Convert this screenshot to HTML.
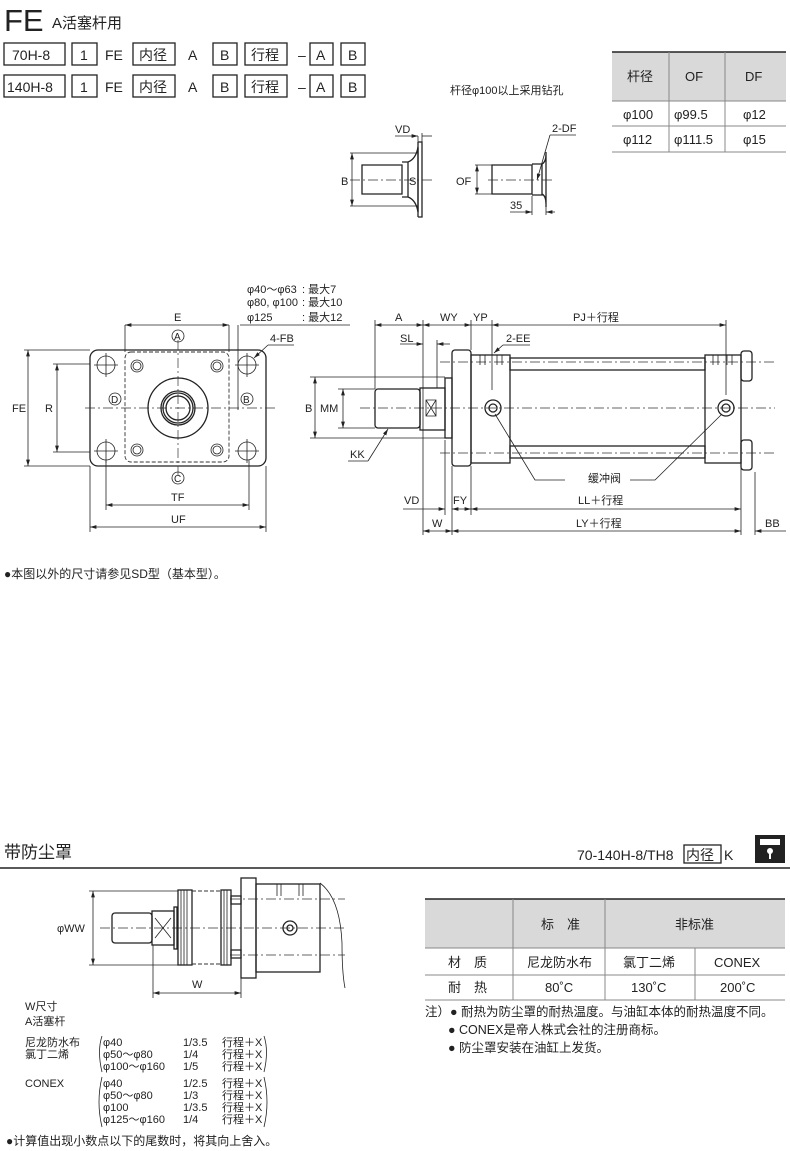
<!DOCTYPE html>
<html><head><meta charset="utf-8"><style>
body{margin:0;background:#fff}
svg{display:block}
text{font-family:"Liberation Sans","Noto Sans CJK SC",sans-serif;fill:#222}
.l{stroke:#222;fill:none;stroke-width:1.3}
.t{stroke:#222;fill:none;stroke-width:0.8}
.c{stroke:#333;fill:none;stroke-width:0.7;stroke-dasharray:10 3 2 3}
.d{stroke:#333;fill:none;stroke-width:0.9;stroke-dasharray:4 2}
.b{stroke:#222;fill:#fff;stroke-width:1}
</style></head><body>
<svg width="790" height="1151" viewBox="0 0 790 1151">
<defs>
<marker id="a" viewBox="0 0 10 6" refX="10" refY="3" markerWidth="8" markerHeight="5" orient="auto-start-reverse"><path d="M0,0L10,3L0,6" fill="#222"/></marker>
</defs>
<!-- header -->
<text x="4" y="31" font-size="31">FE</text>
<text x="52" y="28" font-size="15">A活塞杆用</text>
<g font-size="14">
<rect class="l" x="4" y="43" width="61" height="22"/><text x="12" y="60">70H-8</text>
<rect class="l" x="72" y="43" width="25" height="22"/><text x="80" y="60">1</text>
<text x="105" y="60">FE</text>
<rect class="l" x="133" y="43" width="42" height="22"/><text x="139" y="60">内径</text>
<text x="188" y="60">A</text>
<rect class="l" x="213" y="43" width="24" height="22"/><text x="220" y="60">B</text>
<rect class="l" x="245" y="43" width="42" height="22"/><text x="251" y="60">行程</text>
<text x="298" y="60">–</text>
<rect class="l" x="310" y="43" width="23" height="22"/><text x="316" y="60">A</text>
<rect class="l" x="341" y="43" width="24" height="22"/><text x="348" y="60">B</text>
<rect class="l" x="4" y="75" width="61" height="22"/><text x="7" y="92">140H-8</text>
<rect class="l" x="72" y="75" width="25" height="22"/><text x="80" y="92">1</text>
<text x="105" y="92">FE</text>
<rect class="l" x="133" y="75" width="42" height="22"/><text x="139" y="92">内径</text>
<text x="188" y="92">A</text>
<rect class="l" x="213" y="75" width="24" height="22"/><text x="220" y="92">B</text>
<rect class="l" x="245" y="75" width="42" height="22"/><text x="251" y="92">行程</text>
<text x="298" y="92">–</text>
<rect class="l" x="310" y="75" width="23" height="22"/><text x="316" y="92">A</text>
<rect class="l" x="341" y="75" width="24" height="22"/><text x="348" y="92">B</text>
</g>
<text x="450" y="94" font-size="11">杆径φ100以上采用钻孔</text>
<!-- top table -->
<rect x="612" y="52" width="174" height="49" fill="#d9d9d9"/>
<line x1="612" y1="52" x2="786" y2="52" stroke="#222" stroke-width="1.5"/>
<line x1="612" y1="101" x2="786" y2="101" stroke="#888"/>
<line x1="612" y1="126" x2="786" y2="126" stroke="#888"/>
<line x1="612" y1="152" x2="786" y2="152" stroke="#888"/>
<line x1="669" y1="52" x2="669" y2="152" stroke="#888"/>
<line x1="725" y1="52" x2="725" y2="152" stroke="#888"/>
<g font-size="13">
<text x="627" y="81">杆径</text><text x="685" y="81">OF</text><text x="745" y="81">DF</text>
<text x="623" y="119">φ100</text><text x="674" y="119">φ99.5</text><text x="743" y="119">φ12</text>
<text x="623" y="144">φ112</text><text x="674" y="144">φ111.5</text><text x="743" y="144">φ15</text>
</g>
<!-- small rod end left -->
<g>
<path class="l" d="M362,165h40v29h-40z"/>
<path class="l" d="M402,162h6v35h-6M408,162q8,-3 10,-15v65q-2,-12 -10,-15"/>
<path class="l" d="M418,142v75M418,142h4v75h-4"/>
<line class="c" x1="350" y1="180" x2="432" y2="180"/>
<line class="t" x1="350" y1="153" x2="418" y2="153"/><line class="t" x1="350" y1="206" x2="418" y2="206"/>
<line class="t" x1="352" y1="153" x2="352" y2="206" marker-start="url(#a)" marker-end="url(#a)"/>
<text x="341" y="185" font-size="11">B</text><text x="409" y="185" font-size="11">S</text>
<text x="395" y="133" font-size="11">VD</text>
<line class="t" x1="395" y1="136" x2="418" y2="136" marker-end="url(#a)"/><line class="t" x1="422" y1="136" x2="432" y2="136"/>
<line class="t" x1="418" y1="136" x2="418" y2="142"/><line class="t" x1="422" y1="133" x2="422" y2="142"/>
</g>
<!-- small rod end right -->
<g>
<path class="l" d="M492,165h40v29h-40z"/>
<path class="l" d="M532,164h10v31h-10M542,164q4,-2 4,-10v50q0,-8 -4,-10M546,152v55"/>
<line class="c" x1="488" y1="180" x2="555" y2="180"/>
<line class="t" x1="475" y1="165" x2="492" y2="165"/><line class="t" x1="475" y1="194" x2="492" y2="194"/>
<line class="t" x1="477" y1="165" x2="477" y2="194" marker-start="url(#a)" marker-end="url(#a)"/>
<text x="456" y="185" font-size="11">OF</text>
<text x="552" y="132" font-size="11">2-DF</text>
<line class="t" x1="550" y1="135" x2="576" y2="135"/><line class="t" x1="550" y1="135" x2="537" y2="180" marker-end="url(#a)"/>
<line class="t" x1="532" y1="196" x2="532" y2="215"/><line class="t" x1="546" y1="207" x2="546" y2="215"/>
<line class="t" x1="510" y1="212" x2="532" y2="212" marker-end="url(#a)"/><line class="t" x1="546" y1="212" x2="555" y2="212" marker-start="url(#a)"/>
<text x="510" y="209" font-size="11">35</text>
</g>
<!-- flange front view -->
<g font-size="11">
<text x="247" y="293">φ40～φ63</text><text x="302" y="293">: 最大7</text>
<text x="247" y="306">φ80, φ100</text><text x="302" y="306">: 最大10</text>
<text x="247" y="321">φ125</text><text x="302" y="321">: 最大12</text>
<line class="t" x1="240" y1="325" x2="350" y2="325"/>
<rect class="l" x="90" y="350" width="176" height="116" rx="8"/>
<rect class="d" x="125" y="352" width="104" height="110" rx="6"/>
<line class="c" x1="85" y1="408" x2="278" y2="408"/>
<line class="c" x1="178" y1="340" x2="178" y2="475"/>
<circle class="l" cx="178" cy="408" r="30"/>
<circle class="l" cx="178" cy="408" r="17"/><circle class="l" cx="178" cy="408" r="15"/><circle class="l" cx="178" cy="408" r="12"/>
<g class="t">
<circle cx="106" cy="365" r="9"/><circle cx="247" cy="365" r="9"/><circle cx="106" cy="451" r="9"/><circle cx="247" cy="451" r="9"/>
<path d="M94,365h24M106,353v24M235,365h24M247,353v24M94,451h24M106,439v24M235,451h24M247,439v24"/>
<circle cx="137" cy="366" r="6"/><circle cx="137" cy="366" r="4"/><circle cx="217" cy="366" r="6"/><circle cx="217" cy="366" r="4"/>
<circle cx="137" cy="450" r="6"/><circle cx="137" cy="450" r="4"/><circle cx="217" cy="450" r="6"/><circle cx="217" cy="450" r="4"/>
</g>
<circle class="t" cx="178" cy="336" r="6"/><text x="174" y="340" font-size="10">A</text>
<circle class="t" cx="178" cy="478" r="6"/><text x="174" y="482" font-size="10">C</text>
<circle class="t" cx="115" cy="399" r="6"/><text x="111" y="403" font-size="10">D</text>
<circle class="t" cx="247" cy="399" r="6"/><text x="243" y="403" font-size="10">B</text>
<text x="174" y="321">E</text>
<line class="t" x1="125" y1="325" x2="125" y2="352"/><line class="t" x1="229" y1="325" x2="229" y2="352"/><line class="t" x1="238" y1="325" x2="238" y2="410"/>
<line class="t" x1="125" y1="325" x2="229" y2="325" marker-start="url(#a)" marker-end="url(#a)"/>
<text x="270" y="342">4-FB</text>
<line class="t" x1="268" y1="345" x2="294" y2="345"/><line class="t" x1="268" y1="345" x2="254" y2="358" marker-end="url(#a)"/>
<line class="t" x1="24" y1="350" x2="90" y2="350"/><line class="t" x1="24" y1="466" x2="90" y2="466"/>
<line class="t" x1="28" y1="350" x2="28" y2="466" marker-start="url(#a)" marker-end="url(#a)"/>
<text x="12" y="412">FE</text>
<line class="t" x1="53" y1="364" x2="90" y2="364"/><line class="t" x1="53" y1="452" x2="90" y2="452"/>
<line class="t" x1="57" y1="364" x2="57" y2="452" marker-start="url(#a)" marker-end="url(#a)"/>
<text x="45" y="412">R</text>
<line class="t" x1="106" y1="460" x2="106" y2="510"/><line class="t" x1="249" y1="460" x2="249" y2="510"/>
<line class="t" x1="106" y1="505" x2="249" y2="505" marker-start="url(#a)" marker-end="url(#a)"/>
<text x="171" y="501">TF</text>
<line class="t" x1="90" y1="466" x2="90" y2="532"/><line class="t" x1="266" y1="466" x2="266" y2="532"/>
<line class="t" x1="90" y1="527" x2="266" y2="527" marker-start="url(#a)" marker-end="url(#a)"/>
<text x="171" y="523">UF</text>
</g>
<!-- side view -->
<g font-size="11">
<line class="c" x1="360" y1="408" x2="775" y2="408"/>
<line class="c" x1="440" y1="362" x2="775" y2="362"/><line class="c" x1="440" y1="453" x2="775" y2="453"/>
<rect class="l" x="375" y="389" width="45" height="39" rx="3"/>
<rect class="l" x="420" y="388" width="25" height="42"/>
<path class="t" d="M426,400l10,16M436,400l-10,16M426,400h10v16h-10z"/>
<rect class="l" x="445" y="378" width="7" height="60"/>
<rect class="l" x="452" y="350" width="19" height="116" rx="3"/>
<rect class="l" x="471" y="355" width="39" height="108"/>
<rect class="l" x="510" y="358" width="195" height="12"/>
<rect class="l" x="510" y="446" width="195" height="12"/>
<rect class="l" x="705" y="355" width="36" height="108"/>
<rect class="l" x="741" y="351" width="11" height="30" rx="3"/><rect class="l" x="741" y="440" width="11" height="30" rx="3"/>
<circle class="l" cx="493" cy="408" r="8"/><circle class="l" cx="493" cy="408" r="4"/>
<circle class="l" cx="726" cy="408" r="8"/><circle class="l" cx="726" cy="408" r="4"/>
<path class="t" d="M480,355v10M485,355v10M497,355v10M502,355v10M713,355v10M718,355v10M727,355v10M732,355v10"/>
<line class="t" x1="310" y1="377" x2="445" y2="377"/><line class="t" x1="310" y1="438" x2="445" y2="438"/>
<line class="t" x1="315" y1="377" x2="315" y2="438" marker-start="url(#a)" marker-end="url(#a)"/>
<text x="305" y="412">B</text>
<line class="t" x1="338" y1="389" x2="375" y2="389"/><line class="t" x1="338" y1="428" x2="375" y2="428"/>
<line class="t" x1="343" y1="389" x2="343" y2="428" marker-start="url(#a)" marker-end="url(#a)"/>
<text x="320" y="412">MM</text>
<text x="350" y="458">KK</text>
<line class="t" x1="348" y1="461" x2="368" y2="461"/><line class="t" x1="368" y1="461" x2="388" y2="429" marker-end="url(#a)"/>
<line class="t" x1="375" y1="320" x2="375" y2="389"/><line class="t" x1="423" y1="320" x2="423" y2="535"/><line class="t" x1="471" y1="320" x2="471" y2="350"/>
<line class="t" x1="492" y1="320" x2="492" y2="390"/><line class="t" x1="726" y1="320" x2="726" y2="395"/>
<line class="t" x1="375" y1="325" x2="423" y2="325" marker-start="url(#a)" marker-end="url(#a)"/><text x="395" y="321">A</text>
<line class="t" x1="423" y1="325" x2="471" y2="325" marker-start="url(#a)" marker-end="url(#a)"/><text x="440" y="321">WY</text>
<line class="t" x1="471" y1="325" x2="492" y2="325"/><text x="473" y="321">YP</text>
<line class="t" x1="492" y1="325" x2="726" y2="325" marker-start="url(#a)" marker-end="url(#a)"/><text x="573" y="321">PJ＋行程</text>
<text x="400" y="342">SL</text>
<line class="t" x1="400" y1="344" x2="423" y2="344" marker-end="url(#a)"/><line class="t" x1="437" y1="344" x2="450" y2="344" marker-start="url(#a)"/>
<line class="t" x1="437" y1="340" x2="437" y2="388"/>
<text x="506" y="342">2-EE</text>
<line class="t" x1="503" y1="345" x2="530" y2="345"/><line class="t" x1="503" y1="345" x2="494" y2="353" marker-end="url(#a)"/>
<text x="588" y="482">缓冲阀</text>
<path class="t" d="M565,480h-30L495,414M630,480h25L722,414"/>
<line class="t" x1="445" y1="440" x2="445" y2="515"/><line class="t" x1="452" y1="466" x2="452" y2="535"/><line class="t" x1="471" y1="466" x2="471" y2="515"/>
<line class="t" x1="741" y1="466" x2="741" y2="535"/><line class="t" x1="755" y1="472" x2="755" y2="535"/>
<text x="404" y="504">VD</text>
<line class="t" x1="403" y1="509" x2="445" y2="509" marker-end="url(#a)"/><line class="t" x1="452" y1="509" x2="471" y2="509" marker-start="url(#a)" marker-end="url(#a)"/>
<text x="453" y="504">FY</text>
<line class="t" x1="471" y1="509" x2="741" y2="509" marker-start="url(#a)" marker-end="url(#a)"/><text x="578" y="504">LL＋行程</text>
<line class="t" x1="423" y1="531" x2="452" y2="531" marker-start="url(#a)" marker-end="url(#a)"/><text x="432" y="527">W</text>
<line class="t" x1="452" y1="531" x2="741" y2="531" marker-start="url(#a)" marker-end="url(#a)"/><text x="576" y="527">LY＋行程</text>
<line class="t" x1="755" y1="531" x2="786" y2="531" marker-start="url(#a)"/><text x="765" y="527">BB</text>
</g>
<text x="4" y="578" font-size="12">●本图以外的尺寸请参见SD型（基本型）。</text>
<!-- bottom section -->
<text x="4" y="858" font-size="17">带防尘罩</text>
<line x1="0" y1="868" x2="790" y2="868" stroke="#222" stroke-width="1.5"/>
<text x="577" y="860" font-size="14">70-140H-8/TH8</text>
<rect class="l" x="684" y="845" width="37" height="18"/><text x="686" y="860" font-size="14">内径</text>
<text x="724" y="860" font-size="14">K</text>
<rect x="755" y="835" width="30" height="28" fill="#222"/>
<rect x="760" y="839" width="20" height="6" fill="#fff"/><circle cx="770" cy="851" r="3" fill="#fff"/><rect x="769" y="851" width="2" height="8" fill="#fff"/>
<g font-size="11">
<line class="c" x1="100" y1="928" x2="345" y2="928"/>
<line class="c" x1="230" y1="899" x2="345" y2="899"/><line class="c" x1="230" y1="955" x2="345" y2="955"/>
<rect class="l" x="112" y="913" width="40" height="30" rx="3"/>
<rect class="l" x="152" y="911" width="22" height="34"/>
<path class="t" d="M155,918l16,20M171,918l-16,20"/>
<rect class="l" x="174" y="907" width="3" height="42"/>
<rect class="l" x="178" y="890" width="14" height="75"/>
<path class="t" d="M181,890v75M184,890v75M187,890v75"/>
<rect class="l" x="221" y="890" width="10" height="75"/>
<path class="t" d="M224,890v75M227,890v75"/>
<path class="d" d="M192,891h29M192,964h29"/>
<rect class="l" x="231" y="896" width="10" height="8"/><rect class="l" x="231" y="950" width="10" height="8"/>
<rect class="l" x="241" y="878" width="15" height="100"/>
<rect class="l" x="256" y="884" width="64" height="88"/>
<circle class="l" cx="290" cy="928" r="7"/><circle class="l" cx="290" cy="928" r="3"/>
<path class="t" d="M277,884v12M281,884v12M299,884v12M303,884v12"/>
<path class="t" d="M320,883q20,15 22,60q0,30 3,45"/>
<line class="t" x1="89" y1="891" x2="178" y2="891"/><line class="t" x1="89" y1="965" x2="178" y2="965"/>
<line class="t" x1="93" y1="891" x2="93" y2="965" marker-start="url(#a)" marker-end="url(#a)"/>
<text x="57" y="932">φWW</text>
<line class="t" x1="153" y1="945" x2="153" y2="998"/><line class="t" x1="241" y1="978" x2="241" y2="998"/>
<line class="t" x1="153" y1="993" x2="241" y2="993" marker-start="url(#a)" marker-end="url(#a)"/>
<text x="192" y="988">W</text>
<text x="25" y="1010">W尺寸</text>
<text x="25" y="1025">A活塞杆</text>
<text x="25" y="1046">尼龙防水布</text><text x="25" y="1058">氯丁二烯</text>
<text x="103" y="1046">φ40</text><text x="183" y="1046">1/3.5</text><text x="222" y="1046">行程＋X</text>
<text x="103" y="1058">φ50～φ80</text><text x="183" y="1058">1/4</text><text x="222" y="1058">行程＋X</text>
<text x="103" y="1070">φ100～φ160</text><text x="183" y="1070">1/5</text><text x="222" y="1070">行程＋X</text>
<path class="t" d="M102,1036q-5,15 0,36M264,1036q5,15 0,36"/>
<text x="25" y="1087">CONEX</text>
<text x="103" y="1087">φ40</text><text x="183" y="1087">1/2.5</text><text x="222" y="1087">行程＋X</text>
<text x="103" y="1099">φ50～φ80</text><text x="183" y="1099">1/3</text><text x="222" y="1099">行程＋X</text>
<text x="103" y="1111">φ100</text><text x="183" y="1111">1/3.5</text><text x="222" y="1111">行程＋X</text>
<text x="103" y="1123">φ125～φ160</text><text x="183" y="1123">1/4</text><text x="222" y="1123">行程＋X</text>
<path class="t" d="M102,1077q-6,25 0,50M264,1077q6,25 0,50"/>
</g>
<text x="6" y="1145" font-size="12">●计算值出现小数点以下的尾数时，将其向上舍入。</text>
<!-- bottom table -->
<rect x="425" y="899" width="360" height="49" fill="#d9d9d9"/>
<line x1="425" y1="899" x2="785" y2="899" stroke="#222" stroke-width="1.5"/>
<line x1="425" y1="948" x2="785" y2="948" stroke="#888"/>
<line x1="425" y1="975" x2="785" y2="975" stroke="#888"/>
<line x1="425" y1="1000" x2="785" y2="1000" stroke="#888"/>
<line x1="513" y1="899" x2="513" y2="1000" stroke="#888"/>
<line x1="605" y1="899" x2="605" y2="1000" stroke="#888"/>
<line x1="695" y1="948" x2="695" y2="1000" stroke="#888"/>
<g font-size="13">
<text x="541" y="929">标　准</text><text x="675" y="929">非标准</text>
<text x="448" y="967">材　质</text><text x="527" y="967">尼龙防水布</text><text x="623" y="967">氯丁二烯</text><text x="714" y="967">CONEX</text>
<text x="448" y="992">耐　热</text><text x="545" y="992">80˚C</text><text x="631" y="992">130˚C</text><text x="720" y="992">200˚C</text>
</g>
<g font-size="12.5">
<text x="425" y="1016">注）● 耐热为防尘罩的耐热温度。与油缸本体的耐热温度不同。</text>
<text x="448" y="1034">● CONEX是帝人株式会社的注册商标。</text>
<text x="448" y="1052">● 防尘罩安装在油缸上发货。</text>
</g>
</svg>
</body></html>
